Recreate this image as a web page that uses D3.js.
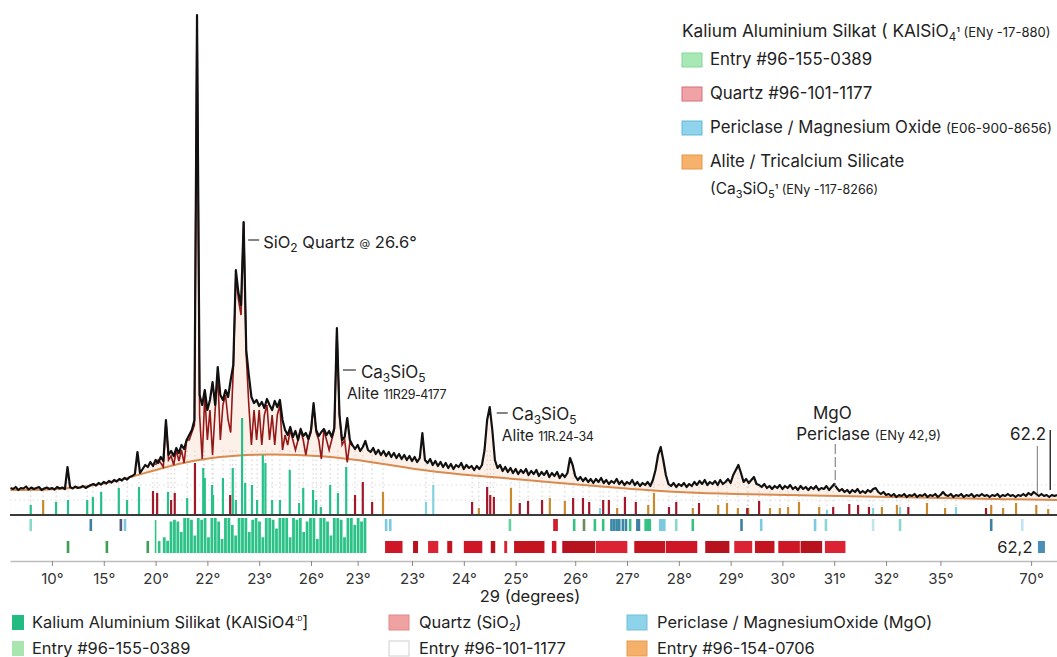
<!DOCTYPE html>
<html>
<head>
<meta charset="utf-8">
<script src="https://cdn.jsdelivr.net/npm/d3@7"></script>
<style>
  body{margin:0;background:#fff;}
  svg{display:block;font-family:Inter,"Open Sans",sans-serif;}
</style>
</head>
<body>
<script>
// tick labels of the 2-theta axis (as printed) and where they sit in axis units
const tickLabels=["10°","15°","20°","22°","23°","26°","23°","23°","24°","25°","26°","27°","28°","29°","30°","31°","32°","35°","70°"];
const tickPos=[0,1,2,3,4,5,5.9,6.95,7.95,8.95,10.1,11.1,12.1,13.1,14.1,15.1,16.1,17.15,18.9];

// measured pattern, evenly sampled from -0.8 to 19.4 axis units
const intensity=[
 54,52,56,50,54,53,57,51,55,52,54,56,50,53,55,52,54,51,56,53,55,52,
 96,
 56,53,57,54,55,58,54,57,
 60,62,59,64,61,66,63,68,65,70,67,72,69,74,71,76,
 78,82,126,84,
 92,100,96,106,98,110,104,116,108,
 190,
 120,128,118,134,124,140,132,150,160,170,190,
 1000,
 240,220,250,210,230,266,220,296,240,230,250,236,270,300,490,444,420,586,330,280,
 236,224,230,218,226,214,232,220,210,228,216,230,
 190,170,160,176,156,168,150,172,158,164,152,170,
 224,
 170,158,166,172,160,168,156,174,
 374,200,150,156,194,
 150,140,132,140,128,136,148,130,126,134,122,130,120,128,118,126,116,124,114,122,112,120,110,118,108,116,106,114,
 164,
 110,104,112,100,108,98,106,96,104,94,102,92,100,96,104,92,100,94,98,90,98,92,100,
 130,190,216,170,
 110,94,100,88,96,86,94,84,92,82,90,84,92,80,88,82,90,78,86,80,88,76,84,78,86,74,82,76,84,
 114,100,
 78,70,76,68,74,66,72,64,72,66,74,64,70,62,68,64,72,62,68,60,66,62,70,60,66,58,64,60,66,58,70,
 90,120,136,110,80,
 62,58,64,56,62,58,64,56,62,58,66,60,68,62,70,60,66,62,68,60,70,62,66,72,64,80,
 90,100,84,
 66,72,64,70,76,62,60,56,62,54,58,52,58,54,60,52,58,54,60,52,56,50,58,52,56,50,56,52,58,50,54,52,58,50,56,
 62,
 54,48,52,46,50,44,50,46,52,44,48,44,50,46,52,54,46,42,46,40,
 42,38,42,36,40,38,42,36,40,38,42,36,40,38,42,36,40,38,42,36,
 40,46,40,38,42,36,40,38,42,36,40,38,42,36,40,38,42,38,40,36,
 40,38,42,36,40,38,42,38,40,36,40,38,42,38,44,40,46,42,38,42,
 38,40,36,40,38,40
];
// calculated (red) trace over the main hump, same sampling, starting at sample 56
const redStart=56;
const redTrace=[
 100,110,104,96,190,110,118,100,130,108,130,104,150,150,165,180,1000,
 200,112,240,150,210,120,210,280,150,220,240,190,165,290,480,430,400,586,320,220,
 140,210,150,210,140,200,220,150,200,140,200,220,130,160,140,170,150,130,150,170,
 150,120,150,165,220,165,150,112,170,150,130,150,170,370,200,140,150,105,145,138
];
// amorphous background, read every axis unit
const bgPos=[-0.8,0.2,1.2,2.2,3.2,4.2,5.2,6.2,7.2,8.2,9.2,10.2,11.2,12.2,13.2,14.2,15.2,16.2,17.2,18.2,19.4];
const bgVal=[50,50,64,98,118,122,119,106,88,78,70,60,52,45,42,40,38,36,34,32,30];

// reference stick patterns [position, intensity]
const kalSticks=[[-0.41,20],[0.08,26],[0.31,30],[0.68,30],[0.79,36],[0.95,46],[1.29,54],[1.45,30],[1.68,56],
 [2.24,46],[2.61,34],[2.92,94],[2.95,74],[3.09,60],[3.11,40],[3.30,74],[3.49,94],[3.55,30],[3.67,194],[3.73,64],
 [3.86,60],[3.96,30],[4.07,120],[4.12,104],[4.25,30],[4.40,30],[4.59,90],[4.77,24],[4.85,54],[5.04,50],[5.10,30],
 [5.19,16],[5.37,60],[5.52,44],[5.68,96]];
const quartzSticks=[[1.95,48],[2.03,44],[2.30,30],[2.37,44],[2.76,104],[3.44,40],[5.85,40],[6.00,66],[6.18,26],
 [8.11,26],[8.40,56],[8.46,40],[8.53,36],[9.03,24],[9.19,28],[9.46,30],[10.06,34],[10.25,34],[10.37,26],[10.64,30],
 [10.75,30],[11.06,36],[11.27,26],[11.91,16],[12.05,26],[12.49,24],[13.42,14],[13.65,28],[15.08,16],[15.39,22],
 [15.56,20],[15.77,16],[16.53,16],[18.03,14]];
const aliteSticks=[[-0.17,30],[6.39,46],[8.24,14],[8.86,54],[9.61,34],[9.90,28],[10.91,14],[11.51,20],[11.62,44],
 [12.37,14],[12.86,20],[13.03,24],[13.24,14],[13.44,14],[13.86,14],[14.05,14],[14.21,16],[14.42,26],[14.81,16],
 [16.02,16],[16.31,20],[16.89,24],[17.24,14],[18.13,20],[18.36,14],[18.61,24],[19.00,20],[19.23,12]];
const periSticks=[[7.22,26],[7.36,60],[10.58,14],[14.96,10],[15.85,14],[16.37,16],[17.45,16]];

// phase marker rows
const row1Ticks=[[-0.41,"teal"],[0.75,"blue"],[1.33,"slate"],[1.41,"lblue"],[6.45,"lblue"],[6.53,"lblue"],
 [8.84,"lgreen"],[9.70,"red"],[9.74,"red"],[10.08,"green"],[10.27,"olive"],[10.48,"green"],[10.64,"green"],
 [10.80,"dteal"],[10.85,"dteal"],[10.90,"dteal"],[10.95,"dteal"],[11.02,"dteal"],[11.08,"dteal"],[11.16,"green"],
 [11.30,"blue"],[11.33,"blue"],[11.46,"green"],[11.50,"green"],[11.54,"green"],[11.74,"lblue"],[11.78,"lblue"],[11.82,"lblue"],
 [12.05,"teal"],[12.37,"green"],[13.31,"blue"],[13.69,"lblue"],[14.73,"lblue"],[14.94,"teal"],[15.85,"faint"],
 [16.37,"teal"],[18.13,"blue"],[18.73,"faint"]];
const row2Ticks=[[0.31,"dgreen"],[1.06,"dgreen"],[1.85,"dgreen"],[2.07,"green"]];
const longTicks=[[2.00,"green"]];
const kalBand=[0.45,0.35,0.9,0.95,0.9,0.6,1,1,0.95,0.5,1,0.95,1,0.45,1,1,0.9,0.4,1,1,0.8,0.5,1,1,1,0.6,0.95,1,0.9,0.45,
 1,1,0.95,0.7,1,1,1,0.45,1,0.95,1,0.6,0.9,1,1,0.4,1,1,0.9,0.5,1,1,0.95,0.45,1,1,0.8,1,0.9,1];
const kalBandRange=[2.14,6.08];
const quartzBlocks=[[6.43,6.78],[6.97,7.08],[7.26,7.47],[7.63,7.74],[7.95,8.32],[8.47,8.57],[8.73,8.80],[8.92,9.52],
 [9.65,9.75],[9.85,10.50],[10.50,11.12],[11.24,11.85],[11.85,12.47],[12.61,13.09],[13.17,13.53],[13.57,13.96],
 [14.02,14.45],[14.45,14.88],[14.92,15.33]];
const extraMarker=[19.1,"blue"];

const W=1057,H=657;
const svg=d3.select("body").append("svg").attr("width",W).attr("height",H);
svg.append("rect").attr("width",W).attr("height",H).attr("fill","#fff");

const x=d3.scaleLinear().domain([-0.81,19.4]).range([10,1057]);
const y=d3.scaleLinear().domain([0,1000]).range([515,15]);

const N=intensity.length, step=20.2/(N-1);
const pts=intensity.map((v,i)=>({p:-0.8+i*step,v:v}));
const redPts=redTrace.map((v,i)=>({p:-0.8+(redStart+i)*step,v:v}));
const bg=bgPos.map((p,i)=>({p:p,v:bgVal[i]}));
const curveAt=p=>intensity[Math.max(0,Math.min(N-1,Math.round((p+0.8)/step)))];

const tickCol={teal:"#8ad8cc",blue:"#3f7fa6",slate:"#55597a",lblue:"#7cc9e0",lgreen:"#62d29e",green:"#35c184",
  red:"#cc1a2c",olive:"#6f8b5b",dteal:"#3a88a6",faint:"#bfe6ef",dgreen:"#3f9d55"};

// fill between background and pattern
svg.append("path").datum(pts).attr("fill","#fcf0e8")
  .attr("d",d3.area().x(d=>x(d.p)).y0(y(0)).y1(d=>y(d.v)));
svg.append("path").datum(bg).attr("fill","#fff")
  .attr("d",d3.area().curve(d3.curveBasis).x(d=>x(d.p)).y0(y(0)).y1(d=>y(d.v)));

// dotted guides
const grid=svg.append("g").attr("stroke","#cfcfcf").attr("stroke-dasharray","1.5,3");
[30,60].forEach(v=>grid.append("line").attr("x1",10).attr("x2",W).attr("y1",y(v)).attr("y2",y(v)).attr("opacity",0.7));
grid.selectAll(".vg").data(kalSticks.concat(quartzSticks,aliteSticks,periSticks)).enter().append("line")
  .attr("x1",d=>x(d[0])).attr("x2",d=>x(d[0])).attr("y1",y(0)).attr("y2",d=>y(Math.min(curveAt(d[0]),130)));

// background line
svg.append("path").datum(bg).attr("fill","none").attr("stroke","#d98a4e").attr("stroke-width",2)
  .attr("d",d3.line().curve(d3.curveBasis).x(d=>x(d.p)).y(d=>y(d.v)));

// sticks
function sticks(data,col){
  svg.append("g").selectAll("rect").data(data).enter().append("rect")
    .attr("x",d=>x(d[0])-1.1).attr("width",2.2)
    .attr("y",d=>y(d[1])).attr("height",d=>y(0)-y(d[1])).attr("fill",col);
}
sticks(aliteSticks,"#c98a2e");
sticks(periSticks,"#82d2e2");
sticks(kalSticks,"#27c089");
sticks(quartzSticks,"#a3172b");

// traces
svg.append("path").datum(redPts).attr("fill","none").attr("stroke","#951818").attr("stroke-width",1.6)
  .attr("d",d3.line().x(d=>x(d.p)).y(d=>y(d.v)));
svg.append("path").datum(pts).attr("fill","none").attr("stroke","#111").attr("stroke-width",2.2)
  .attr("stroke-linejoin","round").attr("d",d3.line().x(d=>x(d.p)).y(d=>y(d.v)));

// baseline
svg.append("line").attr("x1",10).attr("x2",W).attr("y1",y(0)).attr("y2",y(0)).attr("stroke","#3a3a3a").attr("stroke-width",2);

// marker rows
const rows=svg.append("g");
rows.selectAll(".r1").data(row1Ticks).enter().append("rect")
  .attr("x",d=>x(d[0])-1.3).attr("width",2.6).attr("y",519).attr("height",12).attr("fill",d=>tickCol[d[1]]);
rows.selectAll(".r2").data(row2Ticks).enter().append("rect")
  .attr("x",d=>x(d[0])-1.3).attr("width",2.6).attr("y",541).attr("height",12).attr("fill",d=>tickCol[d[1]]);
rows.selectAll(".rl").data(longTicks).enter().append("rect")
  .attr("x",d=>x(d[0])-0.8).attr("width",1.6).attr("y",520).attr("height",33).attr("fill",d=>tickCol[d[1]]);
const bw=(kalBandRange[1]-kalBandRange[0])/kalBand.length;
const bandY=d3.scaleLinear().domain([0,1]).range([553,518]);
rows.selectAll(".kb").data(kalBand).enter().append("rect")
  .attr("x",(d,i)=>x(kalBandRange[0]+i*bw)).attr("width",x(bw)-x(0)-0.6)
  .attr("y",d=>bandY(d)).attr("height",d=>553-bandY(d)).attr("fill","#2cc287");
rows.selectAll(".qb").data(quartzBlocks).enter().append("rect")
  .attr("x",d=>x(d[0])).attr("width",d=>x(d[1])-x(d[0])-0.7).attr("y",541).attr("height",12)
  .attr("fill",(d,i)=>["#cf1626","#b8121f","#dc2333","#c4141f"][i%4]);
rows.append("rect").attr("x",x(extraMarker[0])-3.5).attr("width",7).attr("y",541).attr("height",12).attr("fill","#4b8fb6");
svg.append("text").attr("x",x(extraMarker[0])-9).attr("y",553).attr("text-anchor","end")
  .attr("font-size",16.5).attr("fill","#222").text("62,2");

// axis
const ax=svg.append("g").attr("transform","translate(0,561)")
  .call(d3.axisBottom(x).tickValues(tickPos).tickFormat((d,i)=>tickLabels[i]).tickSize(5).tickPadding(7).tickSizeOuter(0));
ax.select(".domain").attr("stroke","#bdbdbd").attr("stroke-width",1.3);
ax.selectAll(".tick line").attr("stroke","#8a8a8a");
ax.selectAll(".tick text").attr("font-size",15).attr("fill","#333").attr("font-family","Inter,sans-serif");
svg.append("text").attr("x",530).attr("y",602).attr("text-anchor","middle").attr("font-size",16.5).attr("fill","#222").text("29 (degrees)");

// rich text helper
function rich(px,py,parts,size,anchor){
  const t=svg.append("text").attr("x",px).attr("y",py).attr("font-size",size).attr("fill","#222")
    .attr("text-anchor",anchor||"start");
  let shift=0;
  parts.forEach(p=>{
    if(typeof p==="string"){t.append("tspan").attr("dy",-shift).text(p);shift=0;}
    else{const s=t.append("tspan").attr("font-size",p.size||size).attr("dy",(p.dy||0)-shift).text(p.t);
      shift=p.dy||0; if(p.ls!=null)s.attr("letter-spacing",p.ls);}
  });
  return t;
}

// peak annotations
const dash=(x1,x2,yy)=>svg.append("line").attr("x1",x1).attr("x2",x2).attr("y1",yy).attr("y2",yy).attr("stroke","#333").attr("stroke-width",1.2);
const qx=x(3.69); dash(qx+5,qx+16,240);
rich(qx+20,248,["SiO",{t:"2",size:12,dy:4}," Quartz ",{t:"@",size:11,dy:-1}," 26.6°"],16.5);
const a1=x(5.50); dash(a1+6,a1+19,370);
rich(a1+24,378,["Ca",{t:"3",size:12,dy:4},"SiO",{t:"5",size:12,dy:4}],17);
rich(a1+10,399,["Alite ",{t:"11R29-4177",size:12.5,ls:-0.4}],15.5);
const a2=x(8.45); dash(a2+7,a2+18,413);
rich(a2+22,420,["Ca",{t:"3",size:12,dy:4},"SiO",{t:"5",size:12,dy:4}],17);
rich(a2+12,441,["Alite ",{t:"11R.24-34",size:12.5,ls:-0.4}],15.5);
const mg=x(15.12);
svg.append("line").attr("x1",mg).attr("x2",mg).attr("y1",444).attr("y2",486).attr("stroke","#888").attr("stroke-width",1.2).attr("stroke-dasharray","10,3");
rich(mg-3,419,["MgO"],17,"middle");
rich(mg-39,440,["Periclase ",{t:"(ENy 42,9)",size:13}],17);
svg.append("line").attr("x1",x(19.02)).attr("x2",x(19.02)).attr("y1",446).attr("y2",494).attr("stroke","#777").attr("stroke-width",1);
svg.append("line").attr("x1",x(19.27)).attr("x2",x(19.27)).attr("y1",430).attr("y2",490).attr("stroke","#333").attr("stroke-width",1.5);
rich(1010,440,["62.2"],17);

// top-right legend
rich(682,37,["Kalium Aluminium Silkat ( KAlSiO",{t:"4",size:11.5,dy:4},{t:"¹ ",size:12.5},{t:"(ENy -17-880)",size:13}],17.3);
const topLeg=[["Entry #96-155-0389","#a8e8b5","#85d699"],["Quartz #96-101-1177","#f0a3a7","#d46f7b"],
  ["Periclase / Magnesium Oxide ","#8fd4ec","#66b6d2"],["Alite / Tricalcium Silicate","#f6b26b","#e2984c"]];
topLeg.forEach((d,i)=>{
  const yy=53+i*34;
  svg.append("rect").attr("x",682).attr("y",yy).attr("width",20).attr("height",14).attr("fill",d[1]).attr("stroke",d[2]);
  const parts=[d[0]]; if(i===2)parts.push({t:"(E06-900-8656)",size:13.5});
  rich(710,yy+12,parts,16.8);
});
rich(710,194,["(Ca",{t:"3",size:11,dy:4},"SiO",{t:"5",size:11,dy:4},{t:"¹ ",size:12},{t:"(ENy -117-8266)",size:12.5}],15.5);

// bottom legend
const botLeg=[[12,615,12,"#22bb82",null,["Kalium Aluminium Silikat (KAlSiO4",{t:"·ᴰ",size:10,dy:-5},"]"]],
  [12,641,12,"#a8e6b0",null,["Entry #96-155-0389"]],
  [389,615,20,"#f0a2a2","#de8a8a",["Quartz (SiO",{t:"2",size:11,dy:3},")"]],
  [389,641,20,"#ffffff","#cfcfcf",["Entry #96-101-1177"]],
  [627,615,20,"#8dd3ea","#72bfd8",["Periclase / MagnesiumOxide (MgO)"]],
  [627,641,20,"#f5b06a","#e39c52",["Entry #96-154-0706"]]];
botLeg.forEach(d=>{
  const r=svg.append("rect").attr("x",d[0]).attr("y",d[1]).attr("width",d[2]).attr("height",15).attr("fill",d[3]);
  if(d[4])r.attr("stroke",d[4]);
  rich(d[0]+d[2]+(d[2]>12?10:8),d[1]+13,d[5],16.4);
});
</script>
</body>
</html>
